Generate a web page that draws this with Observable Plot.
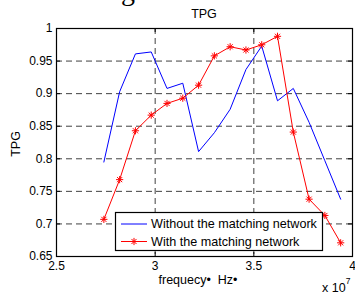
<!DOCTYPE html>
<html>
<head>
<meta charset="utf-8">
<script src="https://cdn.jsdelivr.net/npm/d3@7"></script>
<script src="https://cdn.jsdelivr.net/npm/@observablehq/plot@0.6"></script>
<style>
  html, body { margin: 0; padding: 0; background: white; }
  #chart { position: relative; width: 355px; height: 296px; overflow: hidden; }
</style>
</head>
<body>
<div id="chart"></div>
<script>
// ---- data ----
const freq = [2.74e7, 2.82e7, 2.90e7, 2.98e7, 3.06e7, 3.14e7, 3.22e7, 3.30e7,
              3.38e7, 3.46e7, 3.54e7, 3.62e7, 3.70e7, 3.78e7, 3.86e7, 3.94e7];
const tpgWithout = [0.795, 0.903, 0.961, 0.964, 0.908, 0.916, 0.811, 0.840,
                    0.876, 0.937, 0.973, 0.889, 0.908, 0.856, 0.797, 0.738];
const tpgWith = [0.707, 0.768, 0.843, 0.867, 0.885, 0.893, 0.913, 0.958,
                 0.972, 0.967, 0.975, 0.988, 0.841, 0.738, 0.713, 0.671];
const seriesNames = ["Without the matching network", "With the matching network"];
const xTicks = [2.5e7, 3e7, 3.5e7, 4e7];
const xTickLabels = ["2.5", "3", "3.5", "4"];
const yTicks = [0.65, 0.7, 0.75, 0.8, 0.85, 0.9, 0.95, 1];
const yTickLabels = ["0.65", "0.7", "0.75", "0.8", "0.85", "0.9", "0.95", "1"];
const titleText = "TPG";
const yLabel = "TPG";
const xLabel = "frequecy\u2022  Hz\u2022";

const rowsWithout = freq.map((f, i) => ({f, v: tpgWithout[i]}));
const rowsWith = freq.map((f, i) => ({f, v: tpgWith[i]}));

// MATLAB-like 8-armed asterisk marker
const star = {
  draw(ctx, size) {
    const r = Math.sqrt(size / Math.PI);
    const d = r * Math.SQRT1_2;
    ctx.moveTo(-r, 0); ctx.lineTo(r, 0);
    ctx.moveTo(0, -r); ctx.lineTo(0, r);
    ctx.moveTo(-d, -d); ctx.lineTo(d, d);
    ctx.moveTo(-d, d); ctx.lineTo(d, -d);
  }
};

const W = 355, H = 296, mL = 56, mR = 3, mT = 28, mB = 40;
const fw = W - mL - mR, fh = H - mT - mB;
const font = "'Liberation Sans', Arial, Helvetica, sans-serif";
const gridStyle = {stroke: "#404040", strokeDasharray: "6,4", strokeWidth: 1};

const svg = Plot.plot({
  width: W, height: H,
  marginLeft: mL, marginRight: mR, marginTop: mT, marginBottom: mB,
  style: {fontFamily: font, fontSize: "12px", background: "white", color: "black"},
  x: {domain: [xTicks[0], xTicks[xTicks.length - 1]]},
  y: {domain: [yTicks[0], yTicks[yTicks.length - 1]]},
  marks: [
    Plot.ruleX(xTicks.slice(1, -1), gridStyle),
    Plot.ruleY(yTicks.slice(1, -1), gridStyle),
    Plot.line(rowsWithout, {x: "f", y: "v", stroke: "#0000ff", strokeWidth: 1}),
    Plot.line(rowsWith, {x: "f", y: "v", stroke: "#ff0000", strokeWidth: 1}),
    Plot.dot(rowsWith, {x: "f", y: "v", symbol: star, r: 3.6, stroke: "#ff0000", strokeWidth: 1}),
    Plot.ruleX(xTicks, {insetTop: fh - 4, stroke: "black"}),
    Plot.ruleX(xTicks, {insetBottom: fh - 4, stroke: "black"}),
    Plot.ruleY(yTicks, {insetRight: fw - 4, stroke: "black"}),
    Plot.ruleY(yTicks, {insetLeft: fw - 4, stroke: "black"}),
    Plot.frame({stroke: "black", strokeWidth: 1.2}),
    Plot.axisX(xTicks, {tickSize: 0, tickPadding: 5, label: null,
      tickFormat: d => xTickLabels[xTicks.indexOf(d)], fontSize: 12}),
    Plot.axisY(yTicks, {tickSize: 0, tickPadding: 4, label: null,
      tickFormat: d => yTickLabels[yTicks.indexOf(d)], fontSize: 12})
  ]
});

document.getElementById("chart").appendChild(svg);

const s = d3.select(svg);
// cut-off glyph at very top (from text above the figure)
s.append("text").attr("x", 121).attr("y", 0).attr("text-anchor", "start")
  .attr("font-family", "'Liberation Serif', 'Times New Roman', serif")
  .attr("font-size", 28).attr("fill", "black").text("g");
// title
s.append("text").attr("x", mL + fw / 2).attr("y", 17.5).attr("text-anchor", "middle")
  .attr("font-family", font).attr("font-size", 12.5).attr("fill", "black").text(titleText);
// y label
s.append("text").attr("transform", `translate(20,${mT + fh / 2 + 2}) rotate(-90)`).attr("text-anchor", "middle")
  .attr("font-family", font).attr("font-size", 12.5).attr("fill", "black").text(yLabel);
// x label
s.append("text").attr("x", 198).attr("y", 284).attr("text-anchor", "middle")
  .attr("font-family", font).attr("font-size", 12.5).attr("fill", "black").text(xLabel);
// exponent
const ex = s.append("text").attr("x", 322).attr("y", 292).attr("text-anchor", "start")
  .attr("font-family", font).attr("font-size", 12.5).attr("fill", "black");
ex.append("tspan").text("x 10");
ex.append("tspan").attr("dy", -8).attr("font-size", 8.5).text("7");

// legend
const lg = s.append("g").attr("text-anchor", "start");
lg.append("rect").attr("x", 115.5).attr("y", 212.5).attr("width", 207).attr("height", 38)
  .attr("fill", "white").attr("stroke", "black").attr("stroke-width", 1.2);
const rowsY = [224, 241.5];
const colors = ["#0000ff", "#ff0000"];
rowsY.forEach((yy, i) => {
  lg.append("line").attr("x1", 121).attr("x2", 147).attr("y1", yy).attr("y2", yy)
    .attr("stroke", colors[i]).attr("stroke-width", 1);
  lg.append("text").attr("x", 151).attr("y", yy + 4.3).attr("text-anchor", "start")
    .attr("font-family", font).attr("font-size", 12.6).attr("fill", "black").text(seriesNames[i]);
});
lg.append("path").attr("transform", `translate(134,${rowsY[1]})`)
  .attr("d", d3.symbol(star, Math.PI * 3.6 * 3.6)()).attr("stroke", "#ff0000").attr("fill", "none");
</script>
</body>
</html>
